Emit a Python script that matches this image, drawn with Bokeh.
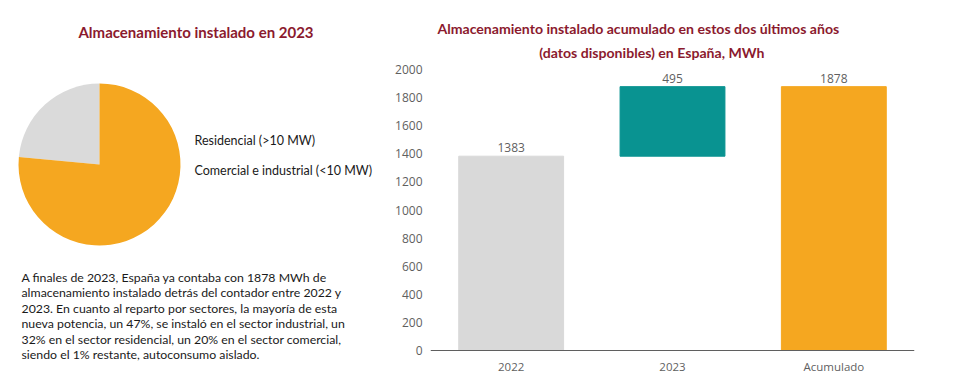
from bokeh.plotting import figure
from bokeh.models import Range1d, FactorRange, FixedTicker, ColumnDataSource, Label, Span
from bokeh.layouts import row
from bokeh.embed import file_html
from bokeh.resources import INLINE
from bokeh.core.properties import value
import math

# ---- data ----
pie_labels = ["Residencial (>10 MW)", "Comercial e industrial (<10 MW)"]
pie_shares = [23.5, 76.5]
pie_colors = ["#DADADA", "#F5A720"]

categories = ["2022", "2023", "Acumulado"]
bar_values = [1383, 495, 1878]
bar_colors = ["#D9D9D9", "#099391", "#F5A720"]
y_ticks = [0, 200, 400, 600, 800, 1000, 1200, 1400, 1600, 1800, 2000]

left_title = "Almacenamiento instalado en 2023"
right_title = ["Almacenamiento instalado acumulado en estos dos últimos años",
               "(datos disponibles) en España, MWh"]
paragraph = [
    "A finales de 2023, España ya contaba con 1878 MWh de",
    "almacenamiento instalado detrás del contador entre 2022 y",
    "2023. En cuanto al reparto por sectores, la mayoría de esta",
    "nueva potencia, un 47%, se instaló en el sector industrial, un",
    "32% en el sector residencial, un 20% en el sector comercial,",
    "siendo el 1% restante, autoconsumo aislado.",
]

TITLE_COLOR = "#8B1A2E"
TEXT_COLOR = "#1a1a1a"
AXIS_COLOR = "#5f5f5f"

H = 389

# ---- left panel (frame covers the whole panel, 1 unit = 1 px) ----
LW = 380
left = figure(width=LW, height=H, x_range=Range1d(0, LW), y_range=Range1d(0, H),
              output_backend="svg", toolbar_location=None, min_border=0)
left.axis.visible = False
left.grid.visible = False
left.outline_line_color = None

total = sum(pie_shares)
starts, ends = [], []
a = math.pi / 2
for s in pie_shares:
    starts.append(a)
    a += s / total * 2 * math.pi
    ends.append(a)
left.wedge(x=99, y=H - 164, radius=81, start_angle=starts, end_angle=ends,
           fill_color=pie_colors, line_color=None)

left.add_layout(Label(x=195.5, y=H - 31, text=left_title, text_font="Lato",
                      text_font_size="15px", text_font_style="bold", text_color=TITLE_COLOR,
                      text_align="center", text_baseline="middle"))

for i, lab in enumerate(pie_labels):
    left.add_layout(Label(x=194, y=H - 140 - 30 * i, text=lab, text_font="Lato",
                          text_font_size="12.5px", text_color=TEXT_COLOR,
                          text_align="left", text_baseline="middle"))

for i, line in enumerate(paragraph):
    left.add_layout(Label(x=21, y=H - 277 - 15.4 * i, text=line, text_font="Lato",
                          text_font_size="12.3px", text_color=TEXT_COLOR,
                          text_align="left", text_baseline="middle"))

# ---- right panel ----
RW = 959 - LW
K = 2000 / 281.0          # value units per pixel
Y_LO = -39 * K            # frame bottom (page y 389)
Y_HI = 2000 + 69 * K      # frame top (page y 0)

bottoms = [0, bar_values[0], 0]
tops = [bar_values[0], bar_values[0] + bar_values[1], bar_values[2]]
src = ColumnDataSource(dict(cat=categories, bottom=bottoms, top=tops, zero=[0, 0, 0],
                            color=bar_colors, label=[str(v) for v in bar_values]))

right = figure(width=RW, height=H, x_range=FactorRange(*categories, range_padding=0),
               y_range=Range1d(Y_LO, Y_HI), output_backend="svg", toolbar_location=None,
               min_border_left=50, min_border_right=45, min_border_top=0,
               min_border_bottom=0)
right.outline_line_color = None
right.grid.visible = False
right.xaxis.visible = False

right.vbar(x="cat", bottom="bottom", top="top", width=0.65, color="color", source=src)
right.text(x="cat", y="top", text="label", source=src, text_font=value("Open Sans"),
           text_font_size="12px", text_color=AXIS_COLOR, text_align="center",
           text_baseline="bottom", y_offset=-4)
# category labels under the baseline
right.text(x="cat", y="zero", text="cat", source=src, text_font=value("Open Sans"),
           text_font_size="11.5px", text_color=AXIS_COLOR, text_align="center",
           text_baseline="middle", y_offset=16)
right.add_layout(Span(location=0, dimension="width", line_color=AXIS_COLOR, line_width=1))

yax = right.yaxis[0]
yax.ticker = FixedTicker(ticks=y_ticks)
yax.axis_line_color = None
yax.major_tick_line_color = None
yax.minor_tick_line_color = None
yax.major_tick_out = 0
yax.major_label_standoff = 8
yax.major_label_text_font = "Open Sans"
yax.major_label_text_font_size = "12px"
yax.major_label_text_color = AXIS_COLOR

right.add_layout(Label(x=1.288, y=(350 - 28) * K, text=right_title[0], text_font="Lato",
                       text_font_size="14.1px", text_font_style="bold",
                       text_color=TITLE_COLOR, text_align="center", text_baseline="middle"))
right.add_layout(Label(x=1.372, y=(350 - 52) * K, text=right_title[1], text_font="Lato",
                       text_font_size="14.1px", text_font_style="bold",
                       text_color=TITLE_COLOR, text_align="center", text_baseline="middle"))

layout = row(left, right)
open("out.html", "w").write(file_html(layout, INLINE))
